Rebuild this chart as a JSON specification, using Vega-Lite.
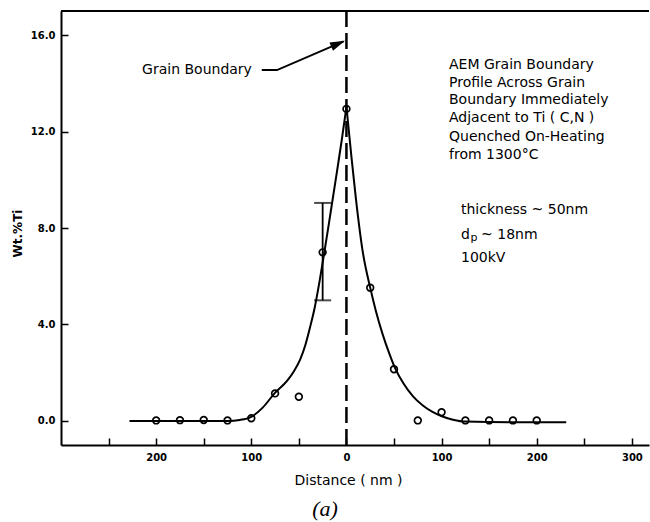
{
  "$schema": "https://vega.github.io/schema/vega-lite/v6.json",
  "width": 588,
  "height": 434,
  "autosize": {"type": "none"},
  "padding": {"left": 61, "top": 11, "right": 1, "bottom": 77},
  "background": "white",
  "config": {
    "view": {"stroke": null},
    "axis": {
      "grid": false,
      "domainColor": "black",
      "domainWidth": 2,
      "tickColor": "black",
      "tickWidth": 1.5,
      "labelColor": "black",
      "titleColor": "black",
      "labelFont": "DejaVu Sans",
      "titleFont": "DejaVu Sans"
    }
  },
  "title": {
    "text": "(a)",
    "orient": "bottom",
    "anchor": "middle",
    "font": "Liberation Serif",
    "fontStyle": "italic",
    "fontWeight": "normal",
    "fontSize": 22,
    "color": "black",
    "dx": -30,
    "offset": 12
  },
  "datasets": {
    "pts": [
      {"nm": -200, "wt": 0.02}, {"nm": -175, "wt": 0.03}, {"nm": -150, "wt": 0.04},
      {"nm": -125, "wt": 0.02}, {"nm": -100, "wt": 0.11}, {"nm": -75, "wt": 1.14},
      {"nm": -50, "wt": 1.0}, {"nm": -25, "wt": 6.99}, {"nm": 0, "wt": 12.94},
      {"nm": 25, "wt": 5.52}, {"nm": 50, "wt": 2.14}, {"nm": 75, "wt": 0.02},
      {"nm": 100, "wt": 0.36}, {"nm": 125, "wt": 0.02}, {"nm": 150, "wt": 0.02},
      {"nm": 175, "wt": 0.02}, {"nm": 200, "wt": 0.02}
    ],
    "fit": [
      {"side": "L", "nm": -228, "wt": 0.0}, {"side": "L", "nm": -180, "wt": 0.0},
      {"side": "L", "nm": -125, "wt": 0.0}, {"side": "L", "nm": -112, "wt": 0.04},
      {"side": "L", "nm": -100, "wt": 0.17}, {"side": "L", "nm": -88, "wt": 0.55},
      {"side": "L", "nm": -75.6, "wt": 1.14}, {"side": "L", "nm": -62, "wt": 1.68},
      {"side": "L", "nm": -55, "wt": 2.07}, {"side": "L", "nm": -48.8, "wt": 2.53},
      {"side": "L", "nm": -43, "wt": 3.17}, {"side": "L", "nm": -38, "wt": 3.92},
      {"side": "L", "nm": -33.6, "wt": 4.65}, {"side": "L", "nm": -28, "wt": 5.85},
      {"side": "L", "nm": -23.4, "wt": 6.95}, {"side": "L", "nm": -17, "wt": 8.55},
      {"side": "L", "nm": -10, "wt": 10.33}, {"side": "L", "nm": -5, "wt": 11.63},
      {"side": "L", "nm": 0, "wt": 13.02},
      {"side": "R", "nm": 0, "wt": 13.02}, {"side": "R", "nm": 5, "wt": 11.05},
      {"side": "R", "nm": 10, "wt": 9.2}, {"side": "R", "nm": 17, "wt": 7.05},
      {"side": "R", "nm": 25, "wt": 5.52}, {"side": "R", "nm": 31, "wt": 4.55},
      {"side": "R", "nm": 38, "wt": 3.6}, {"side": "R", "nm": 45, "wt": 2.8},
      {"side": "R", "nm": 51, "wt": 2.2}, {"side": "R", "nm": 60, "wt": 1.55},
      {"side": "R", "nm": 70, "wt": 1.02}, {"side": "R", "nm": 80, "wt": 0.65},
      {"side": "R", "nm": 90, "wt": 0.38}, {"side": "R", "nm": 101, "wt": 0.18},
      {"side": "R", "nm": 112, "wt": 0.05}, {"side": "R", "nm": 125, "wt": -0.03},
      {"side": "R", "nm": 180, "wt": -0.06}, {"side": "R", "nm": 231, "wt": -0.06}
    ],
    "err": [{"nm": -25, "lo": 5.0, "hi": 9.04}],
    "arrow": [
      {"nm": -89, "wt": 14.55, "o": 1},
      {"nm": -73, "wt": 14.55, "o": 2},
      {"nm": -3, "wt": 15.74, "o": 3}
    ],
    "tip": [{"nm": -1.5, "wt": 15.77}],
    "notes": [
      {"nm": 107.8, "wt": 14.58, "t": "AEM Grain Boundary"},
      {"nm": 107.8, "wt": 13.86, "t": "Profile Across Grain"},
      {"nm": 107.8, "wt": 13.13, "t": "Boundary Immediately"},
      {"nm": 107.8, "wt": 12.38, "t": "Adjacent to Ti ( C,N )"},
      {"nm": 107.8, "wt": 11.62, "t": "Quenched On-Heating"},
      {"nm": 107.8, "wt": 10.87, "t": "from 1300°C"},
      {"nm": 120.4, "wt": 8.58, "t": "thickness ~ 50nm"},
      {"nm": 120.4, "wt": 7.54, "t": "d"},
      {"nm": 141.5, "wt": 7.54, "t": "~ 18nm"},
      {"nm": 120.4, "wt": 6.58, "t": "100kV"},
      {"nm": -214.8, "wt": 14.39, "t": "Grain Boundary"}
    ],
    "subs": [{"nm": 130.4, "wt": 7.45, "t": "p"}]
  },
  "layer": [
    {
      "data": {"name": "fit"},
      "mark": {"type": "line", "interpolate": "monotone", "strokeWidth": 2, "color": "black"},
      "encoding": {
        "x": {
          "field": "nm", "type": "quantitative",
          "scale": {"domain": [-300, 318], "nice": false, "zero": false},
          "axis": {
            "orient": "bottom",
            "title": "Distance ( nm )",
            "values": [-250, -200, -150, -100, -50, 0, 50, 100, 150, 200, 250, 300],
            "labelExpr": "datum.value % 100 === 0 ? '' + abs(datum.value) : ''",
            "tickSize": -7,
            "labelPadding": 14,
            "labelFlush": false,
            "labelOverlap": false,
            "labelFontSize": 10,
            "labelFontWeight": "bold",
            "titleFontSize": 14,
            "titleFontWeight": "normal",
            "titleX": 287,
            "titleY": 28,
            "titleBaseline": "top"
          }
        },
        "y": {
          "field": "wt", "type": "quantitative",
          "scale": {"domain": [-1, 17], "nice": false, "zero": false},
          "axis": {
            "orient": "left",
            "title": "Wt.%Ti",
            "values": [0, 4, 8, 12, 16],
            "format": ".1f",
            "tickSize": -7,
            "labelPadding": 13,
            "labelFontSize": 10,
            "labelFontWeight": "bold",
            "titleFontSize": 12,
            "titleFontWeight": "bold",
            "titlePadding": 6,
            "titleY": 222
          }
        },
        "detail": {"field": "side", "type": "nominal"}
      }
    },
    {
      "data": {"values": [{}]},
      "mark": {"type": "rule", "strokeWidth": 2, "color": "black"},
      "encoding": {"y": {"datum": 17, "type": "quantitative", "title": "Wt.%Ti"}}
    },
    {
      "data": {"values": [{}]},
      "mark": {"type": "rule", "strokeWidth": 2.5, "strokeDash": [16, 6], "color": "black"},
      "encoding": {"x": {"datum": 0, "type": "quantitative", "title": "Distance ( nm )"}}
    },
    {
      "data": {"name": "err"},
      "mark": {
        "type": "errorbar",
        "ticks": {"size": 17, "thickness": 2, "color": "black"},
        "rule": {"strokeWidth": 1.8, "color": "black"}
      },
      "encoding": {
        "x": {"field": "nm", "type": "quantitative", "title": "Distance ( nm )"},
        "y": {"field": "lo", "type": "quantitative", "title": "Wt.%Ti"},
        "y2": {"field": "hi"}
      }
    },
    {
      "data": {"name": "pts"},
      "mark": {"type": "point", "shape": "circle", "filled": false, "size": 45, "strokeWidth": 1.7, "color": "black", "opacity": 1},
      "encoding": {
        "x": {"field": "nm", "type": "quantitative", "title": "Distance ( nm )"},
        "y": {"field": "wt", "type": "quantitative", "title": "Wt.%Ti"}
      }
    },
    {
      "data": {"name": "arrow"},
      "mark": {"type": "line", "strokeWidth": 2, "color": "black"},
      "encoding": {
        "x": {"field": "nm", "type": "quantitative", "title": "Distance ( nm )"},
        "y": {"field": "wt", "type": "quantitative", "title": "Wt.%Ti"},
        "order": {"field": "o", "type": "quantitative"}
      }
    },
    {
      "data": {"name": "tip"},
      "mark": {"type": "point", "shape": "M0,0L-3,-0.9L-3,0.9Z", "size": 100, "filled": true, "color": "black", "opacity": 1, "angle": 336.8},
      "encoding": {
        "x": {"field": "nm", "type": "quantitative", "title": "Distance ( nm )"},
        "y": {"field": "wt", "type": "quantitative", "title": "Wt.%Ti"}
      }
    },
    {
      "data": {"name": "notes"},
      "mark": {"type": "text", "font": "DejaVu Sans", "fontSize": 14, "align": "left", "baseline": "alphabetic", "color": "black"},
      "encoding": {
        "x": {"field": "nm", "type": "quantitative", "title": "Distance ( nm )"},
        "y": {"field": "wt", "type": "quantitative", "title": "Wt.%Ti"},
        "text": {"field": "t"}
      }
    },
    {
      "data": {"name": "subs"},
      "mark": {"type": "text", "font": "DejaVu Sans", "fontSize": 11, "align": "left", "baseline": "alphabetic", "color": "black"},
      "encoding": {
        "x": {"field": "nm", "type": "quantitative", "title": "Distance ( nm )"},
        "y": {"field": "wt", "type": "quantitative", "title": "Wt.%Ti"},
        "text": {"field": "t"}
      }
    }
  ]
}
